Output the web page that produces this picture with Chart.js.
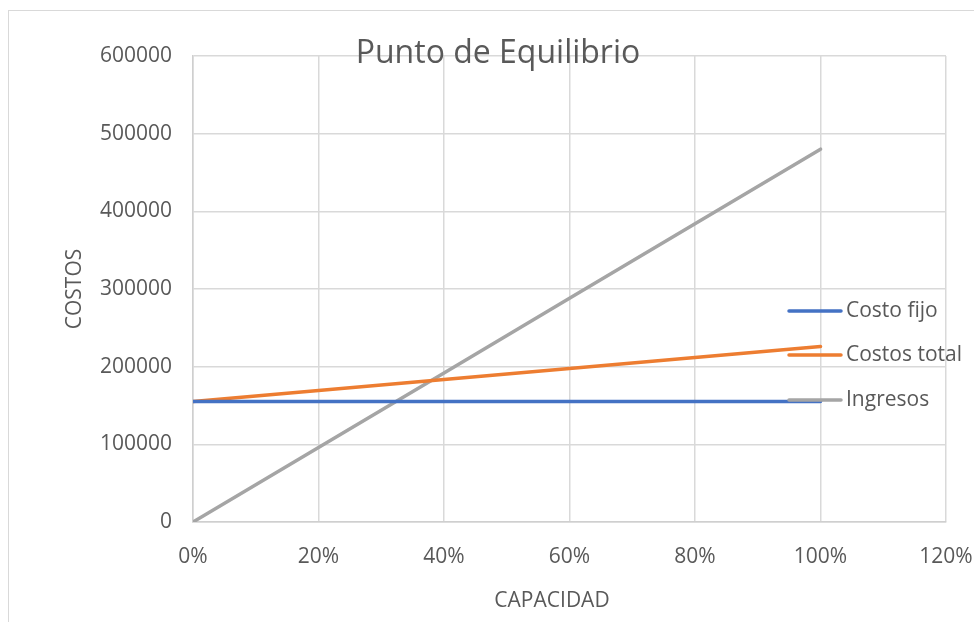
<!DOCTYPE html>
<html>
<head>
<meta charset="utf-8">
<script src="https://cdn.jsdelivr.net/npm/chart.js@4/dist/chart.umd.min.js"></script>
<style>
    html, body { margin: 0; padding: 0; background: #fff; }
    #wrap { position: relative; width: 974px; height: 622px; overflow: hidden; }
    #frame { position: absolute; left: 8px; top: 10px; width: 1000px; height: 700px;
             border-left: 1.5px solid #d9d9d9; border-top: 1.5px solid #d9d9d9; }
    canvas { position: absolute; left: 0; top: 0; }
</style>
</head>
<body>
<div id="wrap">
    <div id="frame"></div>
    <canvas id="chart" width="974" height="622"></canvas>
</div>
<script>
(function () {
    "use strict";

    // capacity levels (fraction of full capacity)
    const capacidad = [0, 0.2, 0.4, 0.6, 0.8, 1.0];

    // series values
    const costoFijo = [155000, 155000, 155000, 155000, 155000, 155000];
    const costosTotal = [155000, 169200, 183400, 197600, 211800, 226000];
    const ingresos = [0, 96000, 192000, 288000, 384000, 480000];

    const seriesNames = ["Costo fijo", "Costos total", "Ingresos"];
    const seriesColors = ["#4472C4", "#ED7D31", "#A5A5A5"];

    const chartTitle = "Punto de Equilibrio";
    const xTitle = "CAPACIDAD";
    const yTitle = "COSTOS";

    const textColor = "#595959";
    const gridColor = "#d9d9d9";
    const fontFamily = "'Open Sans', 'Noto Sans', sans-serif";

    function toPoints(values) {
        return values.map((v, i) => ({ x: capacidad[i], y: v }));
    }

    const datasets = [costoFijo, costosTotal, ingresos].map((values, i) => ({
        label: seriesNames[i],
        data: toPoints(values),
        borderColor: seriesColors[i],
        backgroundColor: seriesColors[i],
        borderWidth: 3.5,
        borderCapStyle: "round",
        pointRadius: 0,
        tension: 0,
        fill: false
    }));

    // title, axis titles and legend are drawn the way Excel places them
    const decorations = {
        id: "decorations",
        afterDraw(chart) {
            const ctx = chart.ctx;
            const area = chart.chartArea;
            ctx.save();
            ctx.fillStyle = textColor;

            ctx.font = "32px " + fontFamily;
            ctx.textAlign = "center";
            ctx.textBaseline = "middle";
            ctx.fillText(chartTitle, 498, 54);

            ctx.font = "21px " + fontFamily;
            ctx.fillText(xTitle, 552, 601);

            ctx.save();
            ctx.translate(75, (area.top + area.bottom) / 2);
            ctx.rotate(-Math.PI / 2);
            ctx.fillText(yTitle, 0, 0);
            ctx.restore();

            // legend on the right
            const legendY = [311, 355, 400];
            ctx.textAlign = "left";
            chart.data.datasets.forEach((ds, i) => {
                ctx.strokeStyle = ds.borderColor;
                ctx.lineWidth = 3.5;
                ctx.lineCap = "round";
                ctx.beginPath();
                ctx.moveTo(789, legendY[i]);
                ctx.lineTo(841, legendY[i]);
                ctx.stroke();
                ctx.fillText(ds.label, 846, legendY[i]);
            });
            ctx.restore();
        }
    };

    new Chart(document.getElementById("chart"), {
        type: "line",
        data: { datasets },
        options: {
            responsive: false,
            animation: false,
            layout: { padding: { top: 56, right: 28, bottom: 0, left: 0 } },
            plugins: {
                legend: { display: false },
                title: { display: false },
                tooltip: { enabled: false }
            },
            scales: {
                x: {
                    type: "linear",
                    min: 0,
                    max: 1.2,
                    afterFit: (scale) => {
                        scale.height = 100;
                        scale.paddingLeft = 0;
                        scale.paddingRight = 0;
                    },
                    ticks: {
                        stepSize: 0.2,
                        padding: 22,
                        color: textColor,
                        font: { family: fontFamily, size: 21 },
                        maxRotation: 0,
                        callback: (v) => Math.round(v * 100) + "%"
                    },
                    grid: { color: gridColor, lineWidth: 1.5, drawTicks: false },
                    border: { color: "#cfcfcf", width: 1.5 }
                },
                y: {
                    min: 0,
                    max: 600000,
                    afterFit: (scale) => { scale.width = 193; },
                    ticks: {
                        stepSize: 100000,
                        padding: 21,
                        color: textColor,
                        font: { family: fontFamily, size: 21 },
                        callback: (v) => String(v)
                    },
                    grid: { color: gridColor, lineWidth: 1.5, drawTicks: false },
                    border: { color: "#cfcfcf", width: 1.5 }
                }
            }
        },
        plugins: [decorations]
    });
})();
</script>
</body>
</html>
